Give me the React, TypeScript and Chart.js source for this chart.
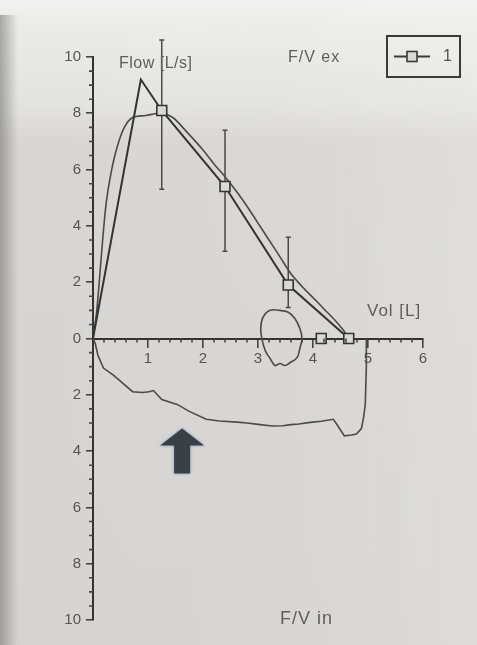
import React, { useEffect, useRef } from 'react';
import { Chart, registerables } from 'chart.js';

Chart.register(...registerables);

// Predicted flow-volume line (with markers)
const predX = [0, 0.87, 1.25, 2.4, 3.55, 4.65];
const predY = [0, 9.2, 8.1, 5.4, 1.9, 0];
const predMarker = [false, false, true, true, true, true];
// Extra predicted marker on the volume axis
const extraX = [4.15];
const extraY = [0];
// Error bars on predicted markers
const errX = [1.25, 2.4, 3.55];
const errLow = [5.3, 3.1, 1.1];
const errHigh = [10.6, 7.4, 3.6];
// Measured expiratory curve (F/V ex)
const expX = [0, 0.06, 0.11, 0.17, 0.24, 0.33, 0.44, 0.57, 0.72, 0.96, 1.24, 1.45, 1.7, 2.0, 2.2, 2.4, 2.6, 2.8, 3.0, 3.2, 3.4, 3.6, 3.8, 4.0, 4.2, 4.4, 4.55, 4.65];
const expY = [0, 0.83, 1.92, 3.37, 4.82, 5.9, 6.81, 7.5, 7.85, 7.92, 8.0, 7.85, 7.35, 6.7, 6.2, 5.75, 5.25, 4.7, 4.1, 3.5, 2.9, 2.3, 1.85, 1.45, 1.05, 0.65, 0.3, 0];
// Tidal loop
const loopX = [3.4, 3.22, 3.09, 3.05, 3.07, 3.13, 3.22, 3.31, 3.4, 3.49, 3.58, 3.71, 3.76, 3.8, 3.76, 3.67, 3.55, 3.4];
const loopY = [1.0, 1.0, 0.75, 0.36, 0, -0.42, -0.71, -0.96, -0.89, -0.96, -0.86, -0.68, -0.36, 0, 0.36, 0.71, 0.93, 1.0];
// Measured inspiratory curve (F/V in)
const inspX = [0, 0.04, 0.09, 0.19, 0.37, 0.55, 0.72, 0.9, 1.02, 1.1, 1.25, 1.53, 1.75, 2.06, 2.3, 2.62, 2.8, 3.0, 3.26, 3.45, 3.6, 3.74, 3.95, 4.15, 4.37, 4.45, 4.57, 4.7, 4.79, 4.88, 4.92, 4.95, 4.97, 4.97];
const inspY = [0, -0.17, -0.6, -1.05, -1.3, -1.6, -1.89, -1.92, -1.89, -1.85, -2.17, -2.34, -2.59, -2.87, -2.93, -2.97, -3.0, -3.05, -3.11, -3.1, -3.06, -3.04, -2.98, -2.94, -2.87, -3.1, -3.46, -3.43, -3.39, -3.2, -2.8, -2.35, -1.0, 0];
// Arrow annotation (tip position in data units)
const arrowTip = [1.62, -3.2];
// Tick settings
const xTickStep = 1;
const yTickStep = 2;
const legendLabel = '1';

const FONT = "'Liberation Sans', Arial, sans-serif";
const BG_MARK = '#d9d9d7';

const pts = (xs: number[], ys: number[]) => xs.map((x, i) => ({ x, y: ys[i] }));

const backgroundPlugin = {
  id: 'photoBg',
  beforeDraw(chart: any) {
    const { ctx, width, height } = chart;
    ctx.save();
    const g = ctx.createLinearGradient(0, 0, 0, height);
    g.addColorStop(0, '#f1f1f1');
    g.addColorStop(0.04, '#ebebea');
    g.addColorStop(0.16, '#e3e3e2');
    g.addColorStop(0.22, '#d7d6d4');
    g.addColorStop(1, '#d5d4d2');
    ctx.fillStyle = g;
    ctx.fillRect(0, 0, width, height);
    const h = ctx.createLinearGradient(0, 0, width, 0);
    h.addColorStop(0, 'rgba(255,255,255,0)');
    h.addColorStop(0.6, 'rgba(255,255,255,0.05)');
    h.addColorStop(1, 'rgba(255,255,255,0.18)');
    ctx.fillStyle = h;
    ctx.fillRect(0, 0, width, height);
    const l = ctx.createLinearGradient(0, 0, 18, 0);
    l.addColorStop(0, 'rgba(110,110,110,0.55)');
    l.addColorStop(1, 'rgba(110,110,110,0)');
    ctx.fillStyle = l;
    ctx.fillRect(0, 15, 18, height - 15);
    ctx.restore();
  },
};

const minorTicksPlugin = {
  id: 'minorTicks',
  afterDraw(chart: any) {
    const { ctx } = chart;
    const xs = chart.scales.x;
    const ys = chart.scales.y;
    const x0 = xs.getPixelForValue(0);
    const y0 = ys.getPixelForValue(0);
    ctx.save();
    ctx.strokeStyle = '#444';
    ctx.lineWidth = 1.6;
    ctx.beginPath();
    for (let i = 0; i <= 40; i++) {
      if (i % 4 === 0) continue;
      const py = ys.getPixelForValue(-10 + i * 0.5);
      ctx.moveTo(x0 - 4, py);
      ctx.lineTo(x0, py);
    }
    for (let i = 1; i < 30; i++) {
      if (i % 5 === 0) continue;
      const px = xs.getPixelForValue(i * 0.2);
      ctx.moveTo(px, y0);
      ctx.lineTo(px, y0 + 4);
    }
    ctx.stroke();
    ctx.restore();
  },
};

const errorBarPlugin = {
  id: 'errorBars',
  beforeDatasetsDraw(chart: any) {
    const { ctx } = chart;
    const xs = chart.scales.x;
    const ys = chart.scales.y;
    ctx.save();
    ctx.strokeStyle = '#4a4a4a';
    ctx.lineWidth = 1.5;
    errX.forEach((xv, i) => {
      const px = xs.getPixelForValue(xv);
      const pl = ys.getPixelForValue(errLow[i]);
      const ph = ys.getPixelForValue(errHigh[i]);
      ctx.beginPath();
      ctx.moveTo(px, pl);
      ctx.lineTo(px, ph);
      ctx.moveTo(px - 2.5, pl);
      ctx.lineTo(px + 2.5, pl);
      ctx.moveTo(px - 2.5, ph);
      ctx.lineTo(px + 2.5, ph);
      ctx.stroke();
    });
    ctx.restore();
  },
};

const annotationPlugin = {
  id: 'annotations',
  afterDraw(chart: any) {
    const { ctx } = chart;
    const xs = chart.scales.x;
    const ys = chart.scales.y;
    ctx.save();
    // texts
    ctx.fillStyle = '#5e5e5e';
    ctx.textBaseline = 'middle';
    ctx.textAlign = 'left';
    (ctx as any).letterSpacing = '0.5px';
    ctx.font = `16px ${FONT}`;
    ctx.fillText('Flow [L/s]', 119, 64);
    (ctx as any).letterSpacing = '1px';
    ctx.fillText('F/V ex', 288, 58);
    ctx.font = `17px ${FONT}`;
    ctx.fillText('Vol [L]', 367, 311);
    ctx.font = `18px ${FONT}`;
    ctx.fillText('F/V in', 280, 619);
    (ctx as any).letterSpacing = '0px';

    // legend box
    ctx.strokeStyle = '#3a3a3a';
    ctx.lineWidth = 2;
    ctx.strokeRect(387, 36, 73, 41);
    ctx.beginPath();
    ctx.moveTo(394, 56.5);
    ctx.lineTo(430, 56.5);
    ctx.stroke();
    ctx.fillStyle = BG_MARK;
    ctx.fillRect(407, 51.5, 10, 10);
    ctx.lineWidth = 1.6;
    ctx.strokeRect(407, 51.5, 10, 10);
    ctx.fillStyle = '#555';
    ctx.font = `16px ${FONT}`;
    ctx.fillText(legendLabel, 443, 57);

    // arrow
    const tx = xs.getPixelForValue(arrowTip[0]);
    const ty = ys.getPixelForValue(arrowTip[1]);
    ctx.shadowColor = 'rgba(70,120,180,0.7)';
    ctx.shadowBlur = 3;
    ctx.fillStyle = '#3a3f46';
    ctx.beginPath();
    ctx.moveTo(tx, ty);
    ctx.lineTo(tx + 22, ty + 17);
    ctx.lineTo(tx + 8, ty + 17);
    ctx.lineTo(tx + 8, ty + 45);
    ctx.lineTo(tx - 8, ty + 45);
    ctx.lineTo(tx - 8, ty + 17);
    ctx.lineTo(tx - 22, ty + 17);
    ctx.closePath();
    ctx.fill();
    ctx.restore();
  },
};

export default function App() {
  const ref = useRef<HTMLCanvasElement | null>(null);
  useEffect(() => {
    if (!ref.current) return;
    const tickFont = { family: FONT, size: 15 };
    const chart = new Chart(ref.current, {
      type: 'scatter',
      data: {
        datasets: [
          {
            label: legendLabel,
            data: pts(predX, predY),
            showLine: true,
            borderColor: '#333',
            borderWidth: 2,
            pointStyle: 'rect',
            pointRadius: predMarker.map((m) => (m ? 7 : 0)),
            pointBorderWidth: 1.6,
            pointBorderColor: '#333',
            pointBackgroundColor: BG_MARK,
            tension: 0,
          },
          {
            label: 'extra',
            data: pts(extraX, extraY),
            showLine: false,
            pointStyle: 'rect',
            pointRadius: 7,
            pointBorderWidth: 1.6,
            pointBorderColor: '#333',
            pointBackgroundColor: BG_MARK,
          },
          {
            label: 'F/V ex',
            data: pts(expX, expY),
            showLine: true,
            borderColor: '#4a4a4a',
            borderWidth: 1.6,
            pointRadius: 0,
            tension: 0.3,
          },
          {
            label: 'loop',
            data: pts(loopX, loopY),
            showLine: true,
            borderColor: '#4a4a4a',
            borderWidth: 1.6,
            pointRadius: 0,
            tension: 0.4,
          },
          {
            label: 'F/V in',
            data: pts(inspX, inspY),
            showLine: true,
            borderColor: '#4a4a4a',
            borderWidth: 1.6,
            pointRadius: 0,
            tension: 0,
          },
        ],
      },
      options: {
        animation: false,
        responsive: false,
        devicePixelRatio: 1,
        events: [],
        layout: { padding: { left: 0, right: 54, top: 57, bottom: 25 } },
        plugins: {
          legend: { display: false },
          tooltip: { enabled: false },
        },
        scales: {
          x: {
            type: 'linear',
            min: 0,
            max: 6,
            position: { y: 0 } as any,
            ticks: {
              stepSize: xTickStep,
              autoSkip: false,
              maxRotation: 0,
              color: '#555',
              font: tickFont,
              padding: 3,
              callback: (v: any) => (Number(v) === 0 ? '' : String(v)),
            },
            grid: {
              drawOnChartArea: false,
              drawTicks: true,
              tickLength: 8,
              lineWidth: 1.6,
              color: '#444',
              tickColor: (c: any) => (c.tick && c.tick.value === 0 ? 'rgba(0,0,0,0)' : '#444'),
            },
            border: { display: true, color: '#333', width: 2 },
            afterFit: (s: any) => {
              s.height = 0;
            },
          },
          y: {
            type: 'linear',
            min: -10,
            max: 10,
            position: 'left',
            ticks: {
              stepSize: yTickStep,
              autoSkip: false,
              color: '#555',
              font: tickFont,
              padding: 5,
              callback: (v: any) => String(Math.abs(Number(v))),
            },
            grid: {
              drawOnChartArea: false,
              drawTicks: true,
              tickLength: 7,
              lineWidth: 1.6,
              color: '#444',
            },
            border: { display: true, color: '#333', width: 2 },
            afterFit: (s: any) => {
              s.width = 93;
            },
          },
        },
      },
      plugins: [backgroundPlugin, errorBarPlugin, minorTicksPlugin, annotationPlugin],
    });
    return () => chart.destroy();
  }, []);

  return (
    <div style={{ position: 'fixed', left: 0, top: 0, width: 477, height: 645 }}>
      <canvas ref={ref} width={477} height={645} style={{ display: 'block', width: 477, height: 645 }} />
    </div>
  );
}
